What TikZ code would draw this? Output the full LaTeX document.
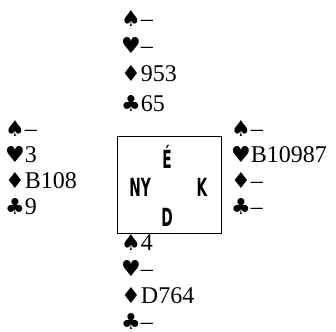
\documentclass[tikz,border=0pt]{standalone}
\usepackage{fontspec}
\setmainfont{Liberation Serif}
\newfontfamily\suitfont{DejaVu Sans}
\newfontfamily\boxfont{DejaVu Sans}[FakeStretch=0.55]
\newcommand{\SP}{{\suitfont\fontsize{22}{22}\selectfont\char"2660}}
\newcommand{\HE}{{\suitfont\fontsize{22}{22}\selectfont\char"2665}}
\newcommand{\DI}{{\suitfont\fontsize{22}{22}\selectfont\char"2666}}
\newcommand{\CL}{{\suitfont\fontsize{22}{22}\selectfont\char"2663}}
\tikzset{
  hand/.style={anchor=base west, inner sep=0pt, font=\fontsize{24}{24}\selectfont},
  seat/.style={anchor=center, inner sep=0pt, font=\boxfont\bfseries\fontsize{25}{25}\selectfont},
  table/.style={draw, line width=1pt, inner sep=0pt, minimum width=104pt, minimum height=97pt}
}
\begin{document}
\begin{tikzpicture}[x=1pt,y=-1pt]
\useasboundingbox (0,0) rectangle (336,331);
% North
\node[hand] (n1) at (121,27) {\SP--};
\node[hand] (n2) at (121,54) {\HE--};
\node[hand] (n3) at (121,82) {\DI953};
\node[hand] (n4) at (121,111) {\CL65};
% West
\node[hand] (w1) at (5,136) {\SP--};
\node[hand] (w2) at (5,162) {\HE3};
\node[hand] (w3) at (5,188) {\DI B108};
\node[hand] (w4) at (5,214) {\CL9};
% East
\node[hand] (e1) at (231,136) {\SP--};
\node[hand] (e2) at (231,162) {\HE B10987};
\node[hand] (e3) at (231,188) {\DI--};
\node[hand] (e4) at (231,214) {\CL--};
% South
\node[hand] (s1) at (121,250) {\SP4};
\node[hand] (s2) at (121,276) {\HE--};
\node[hand] (s3) at (121,303) {\DI D764};
\node[hand, text depth=0pt] (s4) at (121,329) {\CL--};
% table
\node[table] (tbl) at (169,184.5) {};
\node[seat] (sE) at (167,157) {É};
\node[seat] (sN) at (140,187) {NY};
\node[seat] (sK) at (202,187) {K};
\node[seat] (sD) at (167,217) {D};
\end{tikzpicture}
\end{document}
